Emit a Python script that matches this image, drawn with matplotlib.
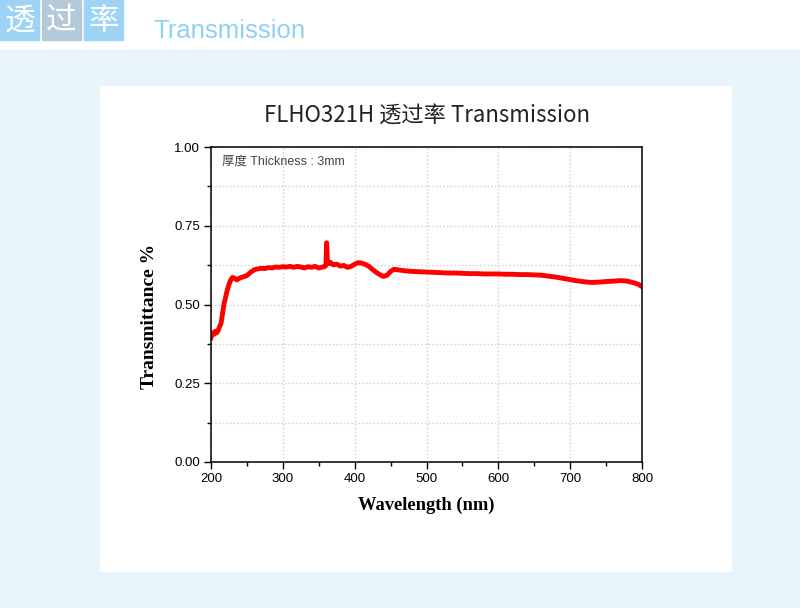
import matplotlib
matplotlib.use("Agg")
import matplotlib.pyplot as plt
from matplotlib.patches import Rectangle
from matplotlib.ticker import MultipleLocator

plt.rcParams['font.family'] = ['Liberation Sans', 'Noto Sans CJK SC', 'DejaVu Sans']

title = "FLHO321H 透过率 Transmission"
header_chars = ["透", "过", "率"]
header_word = "Transmission"
note = "厚度 Thickness : 3mm"
xlabel = "Wavelength (nm)"
ylabel = "Transmittance %"

wavelength = [200, 202, 204, 206, 208, 210, 212, 214, 216, 218, 220, 222, 224, 226, 228,
              230, 233, 236, 240, 245, 250, 255, 260, 265, 270, 275, 280, 285, 290, 295,
              300, 305, 310, 315, 320, 325, 330, 335, 340, 345, 350, 355, 358, 360, 361,
              362, 364, 366, 370, 375, 380, 385, 390, 395, 400, 405, 410, 415, 420, 425,
              430, 435, 440, 445, 450, 455, 460, 470, 480, 490, 500, 510, 520, 530, 540,
              550, 560, 570, 580, 590, 600, 610, 620, 630, 640, 650, 660, 670, 680, 690,
              700, 710, 720, 730, 740, 750, 760, 770, 780, 790, 795, 800]
transmittance = [0.395, 0.41, 0.405, 0.415, 0.41, 0.418, 0.43, 0.44, 0.47, 0.50, 0.52, 0.54, 0.556, 0.57, 0.58,
                 0.586, 0.583, 0.578, 0.584, 0.588, 0.592, 0.602, 0.61, 0.613, 0.615, 0.614, 0.617, 0.616, 0.619, 0.618,
                 0.620, 0.619, 0.621, 0.618, 0.621, 0.619, 0.616, 0.620, 0.618, 0.621, 0.616, 0.619, 0.620, 0.624, 0.696,
                 0.64, 0.63, 0.634, 0.626, 0.628, 0.622, 0.624, 0.618, 0.621, 0.628, 0.633, 0.631, 0.627, 0.621, 0.611,
                 0.602, 0.595, 0.589, 0.593, 0.605, 0.612, 0.610, 0.607, 0.605, 0.604, 0.603, 0.602, 0.601, 0.600, 0.600,
                 0.599, 0.598, 0.598, 0.597, 0.597, 0.597, 0.596, 0.596, 0.595, 0.595, 0.594, 0.593, 0.590, 0.587, 0.583,
                 0.579, 0.575, 0.572, 0.570, 0.571, 0.573, 0.574, 0.576, 0.574, 0.568, 0.564, 0.557]

fig = plt.figure(figsize=(8, 6.08), dpi=100)
W, H = 800, 608

def frect(x, y, w, h, color):
    fig.patches.append(Rectangle((x / W, 1 - (y + h) / H), w / W, h / H,
                                 transform=fig.transFigure, color=color, zorder=-10))

frect(0, 0, 800, 608, "#ffffff")
frect(0, 50, 800, 558, "#e8f4fc")
frect(100, 86, 631, 485, "#ffffff")
box_colors = ["#9dd3f5", "#b5cad8", "#9dd3f5"]
box_x = [0, 42, 84]
for bx, bc, ch in zip(box_x, box_colors, header_chars):
    frect(bx, 0, 39, 40, bc)
    fig.text((bx + 19.5) / W, 1 - 21 / H, ch, color="white", fontsize=22,
             ha="center", va="center", family=["Noto Sans CJK SC"], fontweight="light")
fig.text(153 / W, 1 - 31 / H, header_word, color="#8fd0f5", fontsize=18.5,
         ha="left", va="center", family=["Liberation Sans"])

ax = fig.add_axes([211 / W, 1 - 462 / H, 431 / W, 315 / H])
ax.plot(wavelength, transmittance, color="#ff0000", linewidth=3.5, solid_joinstyle="round")
ax.set_xlim(200, 800)
ax.set_ylim(0, 1)
ax.xaxis.set_major_locator(MultipleLocator(100))
ax.xaxis.set_minor_locator(MultipleLocator(50))
ax.yaxis.set_major_locator(MultipleLocator(0.25))
ax.yaxis.set_minor_locator(MultipleLocator(0.125))
ax.set_yticks([0, 0.25, 0.5, 0.75, 1.0])
ax.set_yticklabels(["0.00", "0.25", "0.50", "0.75", "1.00"])
ax.grid(True, which="major", axis="x", color="#cfcfcf", linestyle=":", linewidth=1)
ax.grid(True, which="both", axis="y", color="#cfcfcf", linestyle=":", linewidth=1)
ax.set_axisbelow(True)
ax.tick_params(which="major", direction="out", length=5, width=1, labelsize=9.5, pad=3)
ax.tick_params(which="minor", direction="out", length=3, width=1)
for s in ax.spines.values():
    s.set_linewidth(1.1)
ax.set_xlabel(xlabel, family=["Liberation Serif"], fontweight="bold", fontsize=13.3, labelpad=8)
ax.set_ylabel(ylabel, family=["Liberation Serif"], fontweight="bold", fontsize=14)
ax.yaxis.set_label_coords(-0.123, 0.463)
ax.text(215.5, 0.952, note, transform=ax.transData, fontsize=9, color="#444444",
        ha="left", va="center", family=["Liberation Sans", "Noto Sans CJK SC"])
fig.text(427 / W, 1 - 116 / H, title, fontsize=16, ha="center", va="center",
         color="#222222", family=["Noto Sans CJK SC", "DejaVu Sans"])

fig.savefig("out.png", dpi=100)
